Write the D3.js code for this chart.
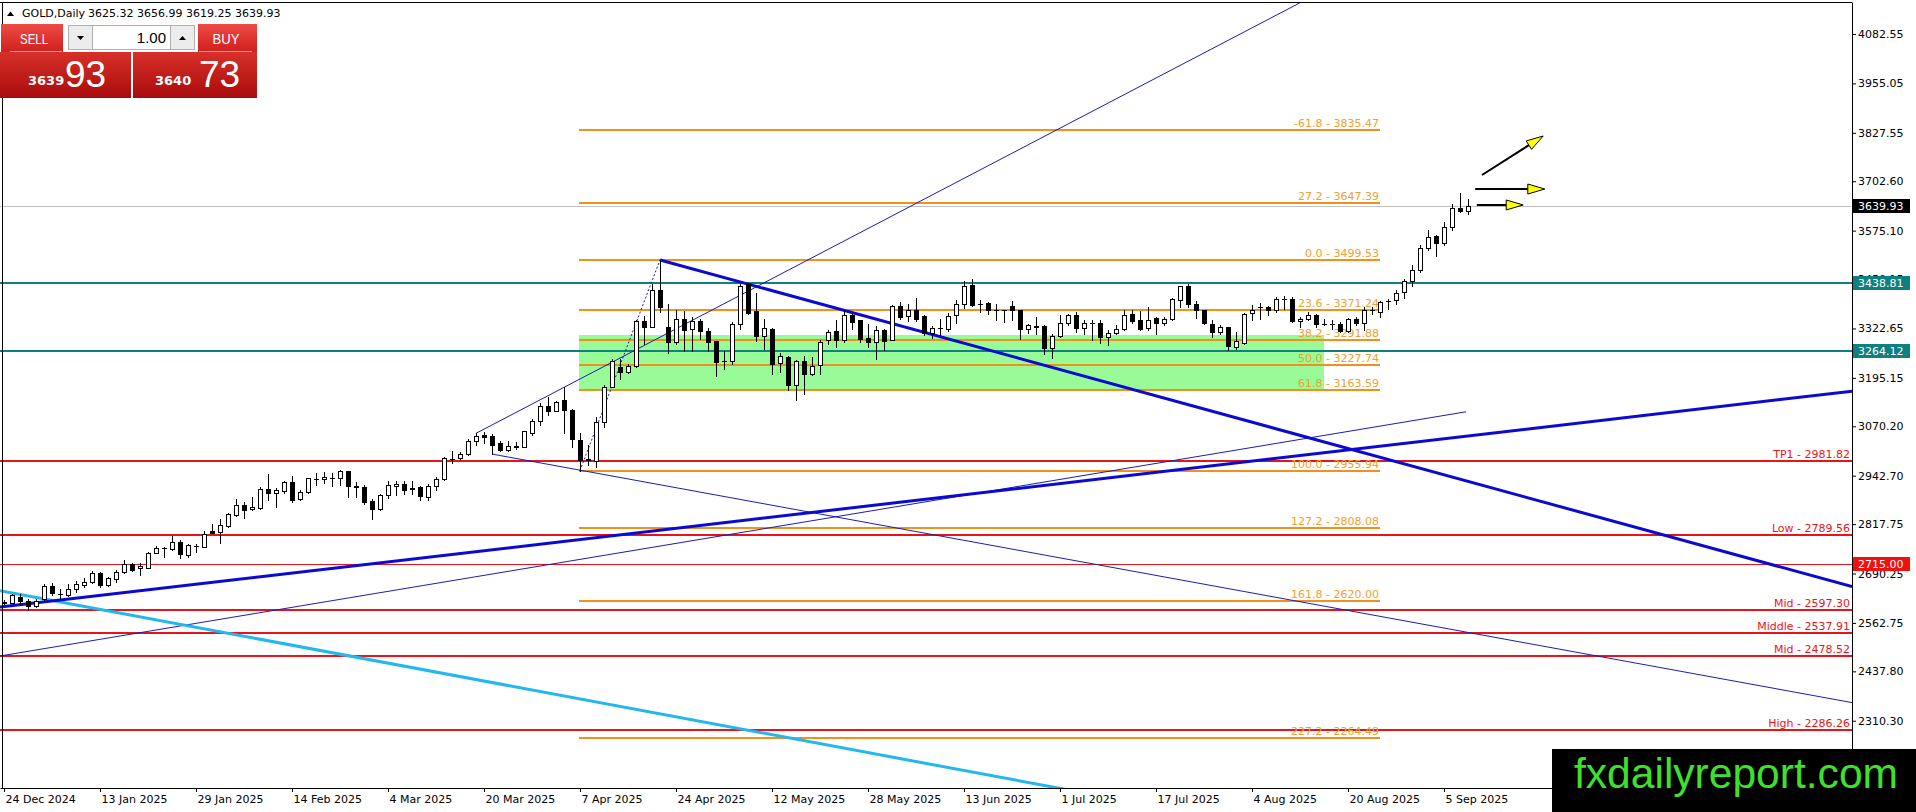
<!DOCTYPE html>
<html>
<head>
<meta charset="utf-8">
<title>GOLD,Daily</title>
<script src="https://cdn.jsdelivr.net/npm/d3@7"></script>
<style>
body { margin: 0; background: #ffffff; }
#GoldChart text { font-family: "DejaVu Sans", sans-serif; font-size: 11px; }
</style>
</head>
<body>
<div id="GoldChart"></div>
<script>
//daily candles, bar 0 = 24 Dec 2024
const opens = [
2613,2615,2630.5,2620.2,2606.4,2623.6,2658,2638,2634.8,2649.4,
2660.6,2669.2,2690.7,2660.6,2675.2,2695,2714.8,2704.5,2705.3,2744,
2756,2754.4,2772.4,2738,2760,2759.5,2800.8,2798.2,2812.9,2842.1,
2867.1,2855.9,2859.3,2907.5,2897.2,2903.2,2927.3,2883.4,2899.8,2934.2,
2933.3,2937.6,2935.9,2954.8,2916,2914.4,2877,2857,2893,2917,
2920,2908,2913,2887,2916,2934,2985,2988.2,2998.5,3031.2,
3048.4,3045.8,3026,3008.8,3018,3017.4,3051.8,3084.5,3123.2,3110.3,
3137.8,3112,3034.6,2985,2981.3,3080.2,3172.2,3223.8,3209.2,3226.4,
3342.6,3327,3421.7,3326,3286.6,3346.9,3321,3342.6,3316.7,3289.2,
3237.6,3238.9,3335.3,3436.8,3367.1,3302.6,3322.4,3233.7,3249.2,3176.1,
3238.9,3204.5,3227.7,3292.2,3316.3,3292.2,3356.8,3343.9,3299,3288,
3318,3294,3380,3354.2,3371.4,3354.2,3311.2,3323,3322.4,3356.8,
3386.9,3434.2,3387,3388.6,3370,3369,3380,3369.7,3322.4,3328,
3328.4,3273.3,3302.6,3337,3356.8,3325,3338,3336.3,3300.2,3310.5,
3321.7,3358.7,3343.2,3324.3,3350.1,3336.3,3347.5,3396.5,3431,3386.2,
3369,3334.6,3313.1,3326,3274.4,3284.7,3362.1,3378,3377.6,3370.7,
3398,3399.1,3341.5,3347.5,3356.1,3335,3333,3332.9,3315.7,3347.5,
3336.3,3369,3364.7,3393,3396.5,3416.3,3446.4,3474,3530.7,3560,
3542.8,3584.1,3634,3625.32];
const highs = [
2621,2638,2637.4,2624,2625,2662,2664.9,2649.4,2663.2,2671.8,
2677.8,2697.6,2695,2680,2699.3,2725.1,2718,2718.2,2745,2761.3,
2757.8,2787.1,2776.7,2766.5,2766.4,2800.8,2818,2830.1,2845.6,2881.7,
2875.7,2886.8,2914.4,2946.2,2910.1,2929.9,2941.9,2905.8,2937.6,2948.8,
2953.1,2948.8,2957.4,2955.7,2927.3,2918.7,2883,2896,2928,2930,
2928,2930,2915,2920,2940,2990,3005.3,3002.8,3037.2,3051.8,
3054.4,3049,3032.9,3032.9,3028.6,3058.7,3088.8,3129.2,3146.4,3134.4,
3170.5,3114.6,3051.8,3022,3094.8,3177.4,3243.6,3243.6,3230.7,3344.3,
3355.5,3437.2,3499.5,3387,3370,3368.4,3351.2,3346.9,3323.6,3291,
3265,3339.6,3438.5,3440.2,3414.4,3348.2,3325,3259.6,3251,3240.6,
3251,3249.2,3292.2,3319.8,3345.6,3371.4,3361,3345.6,3335.3,3328.4,
3322.4,3382.6,3391.2,3386.9,3402.3,3356.8,3328.4,3348.2,3362.8,3397.2,
3445.4,3451.4,3397.2,3391.2,3386.9,3371.4,3393.8,3371.4,3333.5,3352.5,
3331,3309.4,3356.8,3359.4,3365.4,3343.9,3343.9,3343.2,3317.4,3330.3,
3369,3369,3367.3,3377.6,3353.5,3353.5,3401.7,3433.5,3436.1,3393.1,
3370.7,3344.9,3330.3,3327.7,3313.1,3362.1,3382,3388,3381.9,3403.4,
3407.7,3403.4,3351.8,3364.7,3360.4,3347.5,3343.2,3338.9,3350.1,3351.8,
3379.3,3377.6,3394.8,3399.1,3422.4,3450.7,3487.7,3536.8,3577.2,3562.6,
3597,3644.3,3671.8,3656.99];
const lows = [
2611,2613,2609,2596,2603,2620,2634.8,2623.6,2632.2,2643.4,
2656.3,2666.6,2656.3,2658,2669.2,2690.7,2697,2686.4,2704,2742.3,
2733.7,2750.9,2729.4,2733.7,2746.6,2757.8,2793.9,2769.8,2809.4,2838.7,
2832.7,2854.2,2857.6,2880,2862.8,2898.9,2875.7,2880,2897.2,2918.7,
2923,2916.1,2918.7,2886.8,2888.6,2869.6,2832,2855,2885,2894,
2895,2896,2880,2880,2906,2932,2974.4,2985.6,2996.8,3022.5,
3026,2998.5,3005.4,3005.4,3011.4,3015.7,3048.4,3074.2,3100,3108.6,
3051.8,3015.7,2955.9,2970,2965.8,3067.3,3170.5,3192,3206.6,3223.8,
3282.3,3325.4,3364,3258.3,3282.3,3265.1,3265.1,3295.2,3265.1,3200.6,
3218,3232,3322.4,3359.3,3290.5,3270.7,3204.5,3210.5,3165,3139.1,
3152.9,3201.9,3204.5,3283.6,3275,3288,3322.4,3288,3275,3245,
3268.2,3292.2,3348.2,3342.1,3342.1,3305.1,3299.1,3305.1,3316.3,3337,
3376.6,3380,3365.4,3361.1,3345.6,3339.6,3345.6,3296.5,3311.2,3309.4,
3256.1,3247.5,3300.8,3331,3313.7,3309.4,3294,3284.7,3278.7,3307.1,
3317.4,3336.3,3317.4,3319.1,3308.8,3330.3,3343.2,3379.3,3379.3,3350.1,
3334.6,3300.2,3307.1,3265.8,3270.1,3283,3343.2,3347.5,3356.1,3364.7,
3373.3,3338.9,3327.7,3343.2,3327.7,3330.3,3321.7,3313.1,3313.1,3330.3,
3319.1,3360.4,3351.8,3373.3,3386.2,3401.7,3433.5,3467.9,3525.6,3508.4,
3536.8,3577.2,3622.8,3619.25];
const closes = [
2616,2634.8,2620.2,2607.3,2620.2,2658,2639.1,2637.4,2649.4,2663.2,
2669.2,2690.7,2660.6,2677.8,2695,2714.8,2699.3,2709.6,2744,2755.2,
2755.2,2772.4,2739.7,2763.8,2761.3,2792.2,2795.7,2815.4,2843.8,2867.1,
2854.2,2861,2907.5,2897.2,2905.8,2927.3,2880,2901.5,2935.9,2935,
2938.5,2936,2954.8,2916.1,2914.4,2875.7,2858,2893,2918,2921,
2906,2911,2889,2915,2934,2988.2,2985.6,2998.5,3032.9,3045.8,
3043.3,3022.5,3008.8,3020,3018.3,3057,3084.5,3123.2,3110.3,3131.8,
3112,3037.2,2983,2982,3080.2,3172.2,3237.6,3209.2,3226.4,3342.6,
3325.4,3421.7,3377,3287,3346.9,3318.5,3342.6,3315,3286.6,3235,
3239,3333.5,3431.6,3362.8,3302.6,3324.9,3232,3251,3176.1,3238.9,
3204.5,3225.1,3288,3313.7,3294,3356.8,3339.6,3296.5,3288,3318,
3290.5,3380,3352.5,3371.4,3348.2,3311.2,3324.9,3324.9,3354.2,3385.2,
3431.6,3382.6,3386.9,3371.4,3369.7,3369.7,3369.7,3322.4,3331,3326.6,
3273.3,3302.6,3337,3356.8,3325,3337,3337,3300.2,3310.5,3321.7,
3356.1,3341.5,3321.7,3344.9,3336.3,3347.5,3399.1,3431,3384.5,3369,
3336.3,3313.1,3326,3276.1,3289.9,3360.4,3370.7,3377.6,3370.7,3399.1,
3399.1,3341.5,3347.5,3356.1,3332.9,3334.6,3332.9,3315.7,3347.5,3336.3,
3370.7,3369.5,3390.5,3394.8,3413.7,3446.4,3474,3530.7,3558.3,3542.8,
3584.1,3634,3625.4,3639.93];

//time axis labels and the bars they sit on
const dateLabels = ["24 Dec 2024","13 Jan 2025","29 Jan 2025","14 Feb 2025","4 Mar 2025","20 Mar 2025",
  "7 Apr 2025","24 Apr 2025","12 May 2025","28 May 2025","13 Jun 2025","1 Jul 2025","17 Jul 2025",
  "4 Aug 2025","20 Aug 2025","5 Sep 2025"];
const dateBars = [0,12,24,36,48,60,72,84,96,108,120,132,144,156,168,180];

//price axis labels
const priceTicks = [4082.55,3955.05,3827.55,3702.60,3575.10,3450.15,3322.65,3195.15,3070.20,
  2942.70,2817.75,2690.25,2562.75,2437.80,2310.30];

//fibonacci retracement (low 7 Apr -> high 22 Apr)
const fibRatios = ["-61.8","27.2","0.0","23.6","38.2","50.0","61.8","100.0","127.2","161.8","227.2"];
const fibPrices = [3835.47,3647.39,3499.53,3371.24,3291.88,3227.74,3163.59,2955.94,2808.08,2620.00,2264.49];
const fibBars = [72, 172];
const zoneBars = [72, 165];
const zonePrices = [3305.0, 3163.59];

//horizontal levels
const levelNames = ["TP1","Low","Mid","Middle","Mid","High"];
const levelPrices = [2981.82,2789.56,2597.30,2537.91,2478.52,2286.26];
const tealPrices = [3438.81,3264.12];
const alertPrice = 2715.00;
const lastPrice = 3639.93;
const headerOHLC = ["3625.32","3656.99","3619.25","3639.93"];

//trendlines as [bar1, price1, bar2, price2]
const thickLines = [[82,3499.5,231,2656.5],[-0.5,2603.5,231,3160.7]];
const thinLines = [[59,3052,102.8,3524.5],[61,2998.5,72,2957],[-0.5,2477.4,182.75,3107.6]];
const thinRays = [true,true,false];
const cyanLines = [[-0.5,2645.7,131.75,2136.7]];
const fibDiagonal = [72,2955.9,82,3499.5];

//projection arrows [bar1, price1, bar2, price2]
const arrows = [[184.75,3718.7,192.4,3819.3],[183.9,3682.5,192.6,3682.5],[184.1,3641.3,189.9,3641.3]];

//chart properties
const width = 1916;
const height = 812;
const plotLeft = 0, plotTop = 2, plotRight = 1852, plotBottom = 788;

const xscale = d3.scaleLinear().domain([-0.5, 231]).range([plotLeft, plotRight]);
const yscale = d3.scaleLinear().domain([2136.74, 4165.13]).range([plotBottom, plotTop]);
const px = b => Math.round(xscale(b));
const py = p => Math.round(yscale(p));

const svg = d3.select("#GoldChart")
    .append("svg")
    .attr("width", width)
    .attr("height", height)
    .style("display", "block");

svg.append("rect").attr("width", width).attr("height", height).attr("fill", "#ffffff");

const defs = svg.append("defs");
defs.append("clipPath").attr("id", "plotClip")
    .append("rect")
    .attr("x", plotLeft).attr("y", plotTop)
    .attr("width", plotRight - plotLeft).attr("height", plotBottom - plotTop);

const chart = svg.append("g").attr("clip-path", "url(#plotClip)");

//fib zone rectangle
chart.append("rect")
    .attr("x", px(zoneBars[0]) - 1)
    .attr("y", py(zonePrices[0]))
    .attr("width", px(zoneBars[1]) - px(zoneBars[0]) + 1)
    .attr("height", py(zonePrices[1]) - py(zonePrices[0]))
    .attr("fill", "#98fb98");

//horizontal levels drawn as crisp 2px bands
const hlines = chart.append("g").attr("shape-rendering", "crispEdges");

hlines.selectAll(".fib")
    .data(fibPrices)
    .join("rect")
    .attr("class", "fib")
    .attr("x", px(fibBars[0]) - 1)
    .attr("y", d => py(d) - 1)
    .attr("width", px(fibBars[1]) - px(fibBars[0]) + 1)
    .attr("height", 2)
    .attr("fill", "#f39018");

hlines.selectAll(".teal")
    .data(tealPrices)
    .join("rect")
    .attr("class", "teal")
    .attr("x", plotLeft).attr("y", d => py(d) - 1)
    .attr("width", plotRight - plotLeft).attr("height", 2)
    .attr("fill", "#0e8080");

hlines.selectAll(".level")
    .data(levelPrices)
    .join("rect")
    .attr("class", "level")
    .attr("x", plotLeft).attr("y", d => py(d) - 1)
    .attr("width", plotRight - plotLeft).attr("height", 2)
    .attr("fill", "#e8141a");

hlines.append("rect")
    .attr("x", plotLeft).attr("y", py(alertPrice))
    .attr("width", plotRight - plotLeft).attr("height", 1)
    .attr("fill", "#e8141a");

hlines.append("rect")
    .attr("x", plotLeft).attr("y", py(lastPrice))
    .attr("width", plotRight - plotLeft).attr("height", 1)
    .attr("fill", "#c0c0c0");

//level texts
chart.selectAll(".fibtext")
    .data(fibPrices)
    .join("text")
    .attr("class", "fibtext")
    .attr("x", px(fibBars[1]) - 1)
    .attr("y", d => py(d) - 3)
    .attr("text-anchor", "end")
    .attr("fill", "#f0a030")
    .text((d, i) => fibRatios[i] + " - " + d.toFixed(2));

chart.selectAll(".leveltext")
    .data(levelPrices)
    .join("text")
    .attr("class", "leveltext")
    .attr("x", plotRight - 2)
    .attr("y", d => py(d) - 3)
    .attr("text-anchor", "end")
    .attr("fill", "#e8141a")
    .text((d, i) => levelNames[i] + " - " + d.toFixed(2));

//trendlines, rays run on to the right edge
const extend = l => {
    const slope = (l[3] - l[1]) / (l[2] - l[0]);
    return [l[0], l[1], 231, l[1] + slope * (231 - l[0])];
};
const drawLines = (lines, color, lw, dash) => {
    chart.append("g").selectAll("line")
        .data(lines)
        .join("line")
        .attr("x1", d => xscale(d[0])).attr("y1", d => yscale(d[1]))
        .attr("x2", d => xscale(d[2])).attr("y2", d => yscale(d[3]))
        .attr("stroke", color)
        .attr("stroke-width", lw)
        .attr("stroke-dasharray", dash);
};
drawLines(thinLines.map((l, i) => thinRays[i] ? extend(l) : l), "#1c1cb4", 1, null);
drawLines(cyanLines.map(extend), "#22b8ee", 3, null);
drawLines(thickLines, "#0a0ad2", 3, null);
drawLines([fibDiagonal], "#1c1cb4", 1, "2,2");

//candles
const idx = d3.range(opens.length);
const candles = chart.append("g").attr("shape-rendering", "crispEdges");
candles.selectAll(".wick")
    .data(idx)
    .join("rect")
    .attr("class", "wick")
    .attr("x", i => px(i))
    .attr("y", i => py(highs[i]))
    .attr("width", 1)
    .attr("height", i => py(lows[i]) - py(highs[i]) + 1)
    .attr("fill", "#000");
candles.selectAll(".body")
    .data(idx)
    .join("rect")
    .attr("class", "body")
    .attr("x", i => px(i) - 2)
    .attr("y", i => py(Math.max(opens[i], closes[i])))
    .attr("width", 5)
    .attr("height", i => py(Math.min(opens[i], closes[i])) - py(Math.max(opens[i], closes[i])) + 1)
    .attr("fill", "#000");
candles.selectAll(".hollow")
    .data(idx.filter(i => closes[i] > opens[i] && py(opens[i]) - py(closes[i]) >= 2))
    .join("rect")
    .attr("class", "hollow")
    .attr("x", i => px(i) - 1)
    .attr("y", i => py(closes[i]) + 1)
    .attr("width", 3)
    .attr("height", i => py(opens[i]) - py(closes[i]) - 1)
    .attr("fill", "#fff");

//arrows with yellow heads
const arrowG = chart.append("g");
arrows.forEach(a => {
    const x1 = xscale(a[0]), y1 = yscale(a[1]), x2 = xscale(a[2]), y2 = yscale(a[3]);
    const len = Math.hypot(x2 - x1, y2 - y1);
    const ux = (x2 - x1) / len, uy = (y2 - y1) / len;
    const hl = 17, hw = 5;
    const bx = x2 - ux * hl, by = y2 - uy * hl;
    arrowG.append("line")
        .attr("x1", x1).attr("y1", y1).attr("x2", bx).attr("y2", by)
        .attr("stroke", "#000").attr("stroke-width", 2);
    arrowG.append("path")
        .attr("d", `M${x2},${y2}L${bx - uy * hw},${by + ux * hw}L${bx + uy * hw},${by - ux * hw}Z`)
        .attr("fill", "#ffff00")
        .attr("stroke", "#000")
        .attr("stroke-width", 1);
});

//borders
svg.append("line")
    .attr("x1", plotLeft).attr("x2", plotRight)
    .attr("y1", plotTop + 0.5).attr("y2", plotTop + 0.5)
    .attr("stroke", "#000");
svg.append("line")
    .attr("x1", 2.5).attr("x2", 2.5)
    .attr("y1", plotTop).attr("y2", plotBottom)
    .attr("stroke", "#000");

//price axis
const yAxis = d3.axisRight(yscale)
    .tickValues(priceTicks)
    .tickSize(4)
    .tickSizeOuter(0)
    .tickPadding(2)
    .tickFormat(d3.format(".2f"));
const yAxisG = svg.append("g")
    .attr("transform", "translate(" + plotRight + ",0)")
    .call(yAxis);
yAxisG.selectAll("line, path").attr("stroke", "#000");
yAxisG.selectAll("text").attr("fill", "#000");

//time axis
const xAxis = d3.axisBottom(xscale)
    .tickValues(dateBars)
    .tickSize(4)
    .tickSizeOuter(0)
    .tickPadding(3)
    .tickFormat((d, i) => dateLabels[i]);
const xAxisG = svg.append("g")
    .attr("transform", "translate(0," + plotBottom + ")")
    .call(xAxis);
xAxisG.selectAll("line, path").attr("stroke", "#000");
xAxisG.selectAll("text").attr("fill", "#000").attr("text-anchor", "start").attr("x", 1);

//price tags on the axis
const tags = [
    { p: lastPrice, c: "#000000" },
    { p: tealPrices[0], c: "#0e8080" },
    { p: tealPrices[1], c: "#0e8080" },
    { p: alertPrice, c: "#f01010" }
];
const tagG = svg.append("g");
tagG.selectAll("rect")
    .data(tags)
    .join("rect")
    .attr("x", plotRight + 1)
    .attr("y", d => py(d.p) - 7)
    .attr("width", 57)
    .attr("height", 14)
    .attr("fill", d => d.c);
tagG.selectAll("text")
    .data(tags)
    .join("text")
    .attr("x", plotRight + 6)
    .attr("y", d => py(d.p) + 4)
    .attr("fill", "#fff")
    .text(d => d.p.toFixed(2));

//header
svg.append("path").attr("d", "M7,16L14,16L10.5,11.5Z").attr("fill", "#000");
svg.append("text").attr("x", 22).attr("y", 17).attr("fill", "#000").text("GOLD,Daily");
svg.append("text").attr("x", 88).attr("y", 17).attr("fill", "#000").text(headerOHLC.join(" "));

//one click trading panel
const grad = (id, top, bottom) => {
    const g = defs.append("linearGradient").attr("id", id).attr("x1", 0).attr("x2", 0).attr("y1", 0).attr("y2", 1);
    g.append("stop").attr("offset", "0%").attr("stop-color", top);
    g.append("stop").attr("offset", "100%").attr("stop-color", bottom);
};
grad("btnRed", "#ee4b45", "#d0201c");
grad("boxRed", "#d8302a", "#a80c0c");

const panel = svg.append("g").attr("id", "tradePanel");
panel.append("rect").attr("x", 1).attr("y", 24).attr("width", 62).attr("height", 28).attr("fill", "url(#btnRed)");
panel.append("rect").attr("x", 198).attr("y", 24).attr("width", 59).attr("height", 28).attr("fill", "url(#btnRed)");
panel.append("line").attr("x1", 10).attr("x2", 62).attr("y1", 51.5).attr("y2", 51.5).attr("stroke", "#f29a96");
panel.append("line").attr("x1", 199).attr("x2", 252).attr("y1", 51.5).attr("y2", 51.5).attr("stroke", "#f29a96");
panel.append("rect").attr("x", 0).attr("y", 52).attr("width", 131).attr("height", 46).attr("fill", "url(#boxRed)");
panel.append("rect").attr("x", 133).attr("y", 52).attr("width", 124).attr("height", 46).attr("fill", "url(#boxRed)");

panel.append("rect").attr("x", 68.5).attr("y", 25.5).attr("width", 126).attr("height", 24)
    .attr("fill", "#fff").attr("stroke", "#b0b0b0");
panel.append("rect").attr("x", 68.5).attr("y", 25.5).attr("width", 24).attr("height", 24)
    .attr("fill", "#ececec").attr("stroke", "#b0b0b0");
panel.append("rect").attr("x", 170.5).attr("y", 25.5).attr("width", 24).attr("height", 24)
    .attr("fill", "#ececec").attr("stroke", "#b0b0b0");
panel.append("path").attr("d", "M77,36L84,36L80.5,40Z").attr("fill", "#000");
panel.append("path").attr("d", "M179,40L186,40L182.5,36Z").attr("fill", "#000");

panel.append("text").attr("x", 166).attr("y", 43).attr("text-anchor", "end").attr("fill", "#000")
    .style("font-family", "Liberation Sans, sans-serif").style("font-size", "15px").text("1.00");
panel.append("text").attr("x", 34).attr("y", 44).attr("text-anchor", "middle").attr("fill", "#fff")
    .attr("textLength", 28).attr("lengthAdjust", "spacingAndGlyphs")
    .style("font-family", "Liberation Sans, sans-serif").style("font-size", "15px").text("SELL");
panel.append("text").attr("x", 226).attr("y", 44).attr("text-anchor", "middle").attr("fill", "#fff")
    .attr("textLength", 27).attr("lengthAdjust", "spacingAndGlyphs")
    .style("font-family", "Liberation Sans, sans-serif").style("font-size", "15px").text("BUY");

panel.append("text").attr("x", 28).attr("y", 85).attr("fill", "#fff")
    .style("font-weight", "bold").style("font-size", "13px").text("3639");
panel.append("text").attr("x", 65).attr("y", 87).attr("fill", "#fff")
    .style("font-family", "Liberation Sans, sans-serif").style("font-size", "37px").text("93");
panel.append("text").attr("x", 155).attr("y", 85).attr("fill", "#fff")
    .style("font-weight", "bold").style("font-size", "13px").text("3640");
panel.append("text").attr("x", 199).attr("y", 87).attr("fill", "#fff")
    .style("font-family", "Liberation Sans, sans-serif").style("font-size", "37px").text("73");

//watermark
svg.append("rect").attr("x", 1552).attr("y", 749).attr("width", 364).attr("height", 63).attr("fill", "#000");
svg.append("text")
    .attr("x", 1574).attr("y", 788)
    .attr("fill", "#3fe02c")
    .attr("textLength", 324).attr("lengthAdjust", "spacingAndGlyphs")
    .style("font-family", "Liberation Sans Narrow, Liberation Sans, sans-serif")
    .style("font-size", "42px")
    .text("fxdailyreport.com");
</script>
</body>
</html>
